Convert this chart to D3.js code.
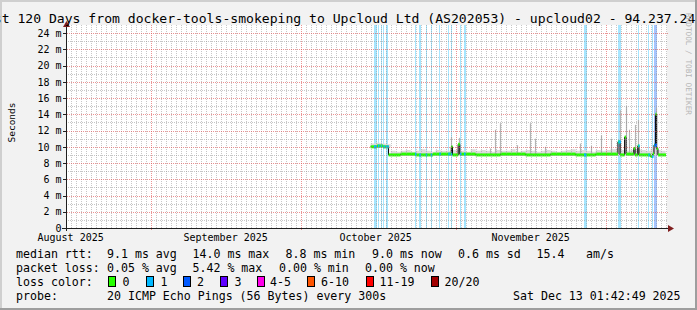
<!DOCTYPE html>
<html><head><meta charset="utf-8">
<script src="https://cdn.jsdelivr.net/npm/d3@7"></script>
<style>
html,body{margin:0;padding:0;background:#f2f2f2;overflow:hidden;}
svg{display:block;}
text{font-family:"DejaVu Sans Mono",monospace;fill:#000;}
</style></head><body>
<svg id="c" width="697" height="310"></svg>
<script>
// ---------------- data ----------------
const titleText = "Last 120 Days from docker-tools-smokeping to Upcloud Ltd (AS202053) - upcloud02 - 94.237.24.10";
const startTime = "2025-08-15T01:42:49Z";
const endTime   = "2025-12-13T01:42:49Z";
const yTicks = [0,2,4,6,8,10,12,14,16,18,20,22,24];
const monthStarts = ["2025-08-01","2025-09-01","2025-10-01","2025-11-01","2025-12-01"];
const monthLabels = ["August 2025","September 2025","October 2025","November 2025"];

// median rtt (ms), step series
const medianTimes = ["2025-10-15T00:00","2025-10-16T06:00","2025-10-17T12:00","2025-10-18T14:00","2025-10-21T00:00",
  "2025-10-24T00:00","2025-10-27T12:00","2025-10-31T03:00","2025-10-31T09:00","2025-11-01T12:00","2025-11-01T20:00",
  "2025-11-05T00:00","2025-11-10T00:00","2025-11-15T00:00","2025-11-20T00:00","2025-11-25T00:00","2025-11-29T00:00",
  "2025-12-03T11:00","2025-12-03T21:00","2025-12-04T19:00","2025-12-05T02:00","2025-12-06T15:00","2025-12-06T21:00",
  "2025-12-07T10:00","2025-12-07T16:00","2025-12-10T00:00","2025-12-10T10:00","2025-12-10T16:00","2025-12-10T23:00",
  "2025-12-11T05:00","2025-12-11T11:00","2025-12-13T01:42"];
const medianValues = [10.0,10.1,10.0,9.0,9.1,9.0,9.1,10.0,9.0,10.3,9.1,9.0,9.1,9.0,9.1,9.0,9.1,10.6,9.0,11.2,9.1,
  9.8,9.0,10.1,9.0,8.8,9.1,10.2,14.0,9.8,9.0,9.0];

// daily smoke band (ms), one value per day from Oct 15
const smokeStart = "2025-10-15T00:00";
const smokeHigh = [10.4,10.5,10.4,10.3,
  9.5,9.4,9.5,9.6,9.4,9.5,9.7,9.5,9.4,9.6,9.5,9.5,9.6,
  9.6,9.5,9.4,9.7,9.5,9.6,9.5,9.4,9.6,9.5,9.5,9.7,9.4,9.5,9.6,9.5,9.4,9.5,9.6,9.5,9.4,9.5,9.6,9.7,9.5,9.6,9.5,9.4,9.6,9.5,
  9.6,9.7,9.8,9.6,9.5,9.6,9.7,9.6,9.5,9.8,9.6,9.5];
const smokeLow = [9.9,9.9,9.9,9.9,
  8.9,8.9,8.9,8.9,8.9,8.9,8.9,8.9,8.9,8.9,8.9,8.9,8.9,
  8.9,8.9,8.9,8.9,8.9,8.9,8.9,8.9,8.9,8.9,8.9,8.9,8.9,8.9,8.9,8.9,8.9,8.9,8.9,8.9,8.9,8.9,8.9,8.9,8.9,8.9,8.9,8.9,8.9,8.9,
  8.9,8.9,8.9,8.9,8.9,8.9,8.9,8.9,8.9,8.9,8.9,8.9];

// isolated high pings (smoke spikes)
const spikeTimes = ["2025-10-31T00:00","2025-11-01T16:00","2025-11-07T20:54","2025-11-08T20:54","2025-11-09T20:54",
  "2025-11-13T05:00","2025-11-15T20:54","2025-11-16T20:54","2025-11-18T20:54","2025-11-25T20:54","2025-11-28T00:16",
  "2025-11-30T00:16","2025-12-02T00:16","2025-12-03T20:54","2025-12-05T00:16","2025-12-05T17:32","2025-12-06T20:54",
  "2025-12-07T12:45","2025-12-11T01:42"];
const spikeTops = [11.2,11.1,9.8,12.1,12.9,10.2,12.9,11.0,10.0,10.4,10.1,11.4,11.0,14.5,15.0,12.1,12.7,13.3,14.8];

// packet loss events
const lossTimes = ["2025-10-15T16:07","2025-10-16T11:18","2025-10-17T00:16","2025-10-17T12:45","2025-10-18T00:16",
  "2025-10-18T07:57","2025-10-23T20:54","2025-10-24T17:32","2025-10-26T00:16","2025-10-27T00:16","2025-10-28T17:32",
  "2025-10-30T12:45","2025-10-31T00:16","2025-11-01T20:54","2025-11-02T16:06","2025-11-26T16:06","2025-12-03T12:45",
  "2025-12-07T12:45","2025-12-09T12:45","2025-12-10T06:30","2025-12-10T17:32"];
const lossHours = [13,5,5,5,6,5,5,8,5,5,7,5,7,5,8,12,13,5,5,5,13];
const lossCounts = [1,1,1,1,1,1,1,1,1,1,1,1,1,1,1,1,1,1,1,1,2];

const lossLabels = ["0","1","2","3","4-5","6-10","11-19","20/20"];
const lossColors = ["#26ff00","#00b8ff","#0059ff","#5e00ff","#ff00ea","#ff5500","#ff0000","#a10000"];

const statMedian = ["median rtt:","9.1 ms avg","14.0 ms max","8.8 ms min","9.0 ms now","0.6 ms sd","15.4","am/s"];
const statLoss = ["packet loss:","0.05 % avg","5.42 % max","0.00 % min","0.00 % now"];
const probeText = ["probe:","20 ICMP Echo Pings (56 Bytes) every 300s","Sat Dec 13 01:42:49 2025"];

// ---------------- drawing ----------------
const W=697,H=310;
const svg=d3.select("#c");
const P={l:66,r:666,t:25,b:228};
const parse = s => new Date(s.endsWith("Z")?s:s+"Z");

svg.append("rect").attr("width",W).attr("height",H).attr("fill","#f2f2f2");
// 3D frame
svg.append("rect").attr("x",0).attr("y",0).attr("width",W).attr("height",2).attr("fill","#cfcfcf");
svg.append("rect").attr("x",0).attr("y",0).attr("width",2).attr("height",H).attr("fill","#cfcfcf");
svg.append("rect").attr("x",0).attr("y",H-2).attr("width",W).attr("height",2).attr("fill","#9e9e9e");
svg.append("rect").attr("x",W-2).attr("y",0).attr("width",2).attr("height",H).attr("fill","#9e9e9e");

const x=d3.scaleUtc().domain([parse(startTime),parse(endTime)]).range([P.l,P.r]);
const y=d3.scaleLinear().domain([0,25]).range([P.b,P.t]);

svg.append("rect").attr("x",P.l).attr("y",P.t).attr("width",P.r-P.l+1).attr("height",P.b-P.t).attr("fill","#fff");

const plot=svg.append("g");
// loss backgrounds
const lossBg = lossTimes.map((t,i)=>({t:parse(t),h:lossHours[i],c:lossCounts[i]}));
plot.selectAll("rect.lossbg").data(lossBg).join("rect")
  .attr("x",d=>Math.round(x(d.t)))
  .attr("width",d=>Math.max(1,Math.round(x(new Date(+d.t+d.h*3600e3))-x(d.t))))
  .attr("y",P.t).attr("height",P.b-P.t)
  .attr("fill",d=>lossColors[d.c]).attr("fill-opacity",0.35);

// smoke
const day0=parse(smokeStart);
const smoke=smokeHigh.map((v,i)=>({t:d3.utcDay.offset(day0,i),hi:v,lo:smokeLow[i]}));
smoke.push({t:d3.utcDay.offset(day0,smokeHigh.length),hi:smokeHigh[smokeHigh.length-1],lo:smokeLow[smokeLow.length-1]});
plot.append("path").datum(smoke)
  .attr("d",d3.area().curve(d3.curveStepAfter).x(d=>x(d.t)).y0(d=>y(d.lo)).y1(d=>y(d.hi)))
  .attr("fill","#dcdcdc");
plot.selectAll("line.spike").data(spikeTimes.map((t,i)=>({t:parse(t),v:spikeTops[i]}))).join("line")
  .attr("x1",d=>Math.round(x(d.t))+0.5).attr("x2",d=>Math.round(x(d.t))+0.5)
  .attr("y1",y(9.0)).attr("y2",d=>y(d.v))
  .attr("stroke","#b4b4b4").attr("stroke-width",1.2);

// median
const med=medianTimes.map((t,i)=>({t:parse(t),v:medianValues[i]}));
plot.append("path").datum(med)
  .attr("d",d3.line().curve(d3.curveStepAfter).x(d=>x(d.t)).y(d=>y(d.v)))
  .attr("fill","none").attr("stroke","#000").attr("stroke-width",1);
plot.selectAll("line.medseg").data(d3.pairs(med)).join("line")
  .attr("x1",d=>x(d[0].t)).attr("x2",d=>x(d[1].t))
  .attr("y1",d=>y(d[0].v)).attr("y2",d=>y(d[0].v))
  .attr("stroke",lossColors[0]).attr("stroke-width",3);
const bis=d3.bisector(d=>d.t).right;
const medAt=t=>med[Math.max(0,bis(med,t)-1)].v;
plot.selectAll("line.lossmed").data(lossBg).join("line")
  .attr("x1",d=>x(d.t)).attr("x2",d=>Math.max(x(d.t)+1.5,x(new Date(+d.t+d.h*3600e3))))
  .attr("y1",d=>y(medAt(d.t))).attr("y2",d=>y(medAt(d.t)))
  .attr("stroke",d=>lossColors[d.c]).attr("stroke-width",3);

// grid (on top, translucent, dotted)
const grid=svg.append("g").attr("shape-rendering","crispEdges");
const majorDates=monthStarts.map(parse).filter(d=>d>x.domain()[0]&&d<x.domain()[1]);
const minorDates=d3.utcDay.range(x.domain()[0],x.domain()[1]).filter(d=>d.getUTCDate()!==1);
grid.selectAll("line.vmin").data(minorDates).join("line")
  .attr("x1",d=>Math.round(x(d))+0.5).attr("x2",d=>Math.round(x(d))+0.5)
  .attr("y1",P.t).attr("y2",P.b)
  .attr("stroke","#8f8f8f").attr("stroke-opacity",0.5).attr("stroke-dasharray","1,1");
const minorY=d3.range(1,25,2);
grid.selectAll("line.hmin").data(minorY).join("line")
  .attr("x1",P.l).attr("x2",P.r+2)
  .attr("y1",d=>Math.round(y(d))+0.5).attr("y2",d=>Math.round(y(d))+0.5)
  .attr("stroke","#8f8f8f").attr("stroke-opacity",0.5).attr("stroke-dasharray","1,1");
grid.selectAll("line.vmaj").data(majorDates).join("line")
  .attr("x1",d=>Math.round(x(d))+0.5).attr("x2",d=>Math.round(x(d))+0.5)
  .attr("y1",P.t).attr("y2",P.b+3)
  .attr("stroke","#de4f4f").attr("stroke-opacity",0.6).attr("stroke-dasharray","1,1");
grid.selectAll("line.hmaj").data(yTicks.filter(v=>v>0)).join("line")
  .attr("x1",P.l-3).attr("x2",P.r+2)
  .attr("y1",d=>Math.round(y(d))+0.5).attr("y2",d=>Math.round(y(d))+0.5)
  .attr("stroke","#de4f4f").attr("stroke-opacity",0.6).attr("stroke-dasharray","1,1");

// axes
const ax=svg.append("g").attr("shape-rendering","crispEdges");
ax.append("line").attr("x1",P.l-4).attr("x2",P.r+4).attr("y1",P.b+0.5).attr("y2",P.b+0.5).attr("stroke","#1f1f1f");
ax.append("line").attr("x1",P.l+0.5).attr("x2",P.l+0.5).attr("y1",P.b+3).attr("y2",P.t-2).attr("stroke","#1f1f1f");
ax.selectAll("line.yt").data(yTicks).join("line")
  .attr("x1",P.l-3).attr("x2",P.l).attr("y1",d=>Math.round(y(d))+0.5).attr("y2",d=>Math.round(y(d))+0.5)
  .attr("stroke","#1f1f1f");
svg.append("path").attr("d",`M${P.r+2},${P.b-3}L${P.r+8},${P.b+0.5}L${P.r+2},${P.b+4}Z`).attr("fill","#801f1f");
svg.append("path").attr("d",`M${P.l-3},${P.t+2}L${P.l+0.5},${P.t-4}L${P.l+4},${P.t+2}Z`).attr("fill","#801f1f");

// y labels
svg.selectAll("text.yl").data(yTicks).join("text")
  .attr("x",61.5).attr("y",d=>y(d)+3.7).attr("text-anchor","end").attr("font-size","10px")
  .text(d=>d===0?"0":d+" m");
// x labels: centered half a month after month start
svg.selectAll("text.xl").data(monthLabels).join("text")
  .attr("x",(d,i)=>x(d3.utcDay.offset(parse(monthStarts[i]),15)))
  .attr("y",241.3).attr("text-anchor","middle").attr("font-size","10px").text(d=>d);

// title
svg.append("text").attr("x",W/2).attr("y",22.5).attr("text-anchor","middle").attr("font-size","13.1px").text(titleText);
// y title
svg.append("text").attr("transform","translate(15,122.5) rotate(-90)").attr("text-anchor","middle")
  .attr("font-size","9.5px").text("Seconds");
// watermark
svg.append("text").attr("transform","translate(685.5,64) rotate(90)").attr("text-anchor","middle")
  .attr("font-size","7.7px").style("fill","#b5b5b5").text("RRDTOOL / TOBI OETIKER");

// legend
const LF="11.6px";
const medX=[16,107,192.5,285.5,372,458,536.5,586];
svg.selectAll("text.l1").data(statMedian).join("text").attr("x",(d,i)=>medX[i]).attr("y",258.3).attr("font-size",LF).text(d=>d);
const lossX=[16,107,192.5,279,365];
svg.selectAll("text.l2").data(statLoss).join("text").attr("x",(d,i)=>lossX[i]).attr("y",272).attr("font-size",LF).text(d=>d);
svg.append("text").attr("x",16).attr("y",286).attr("font-size",LF).text("loss color:");
const boxX=[108.3,145.7,182.7,219.7,256.7,307.3,365.7,430.7];
const lblX=[122.5,160.5,197,234.5,270,321,379.5,444.5];
svg.selectAll("rect.lb").data(lossColors).join("rect")
  .attr("x",(d,i)=>boxX[i]+0.5).attr("y",276.5).attr("width",7).attr("height",10)
  .attr("fill",d=>d).attr("stroke","#000").attr("stroke-width",1).attr("shape-rendering","crispEdges");
svg.selectAll("text.lb").data(lossLabels).join("text").attr("x",(d,i)=>lblX[i]).attr("y",286).attr("font-size",LF).text(d=>d);
const probeX=[16,107,513];
svg.selectAll("text.l4").data(probeText).join("text").attr("x",(d,i)=>probeX[i]).attr("y",300).attr("font-size",LF).text(d=>d);
</script>
</body></html>
